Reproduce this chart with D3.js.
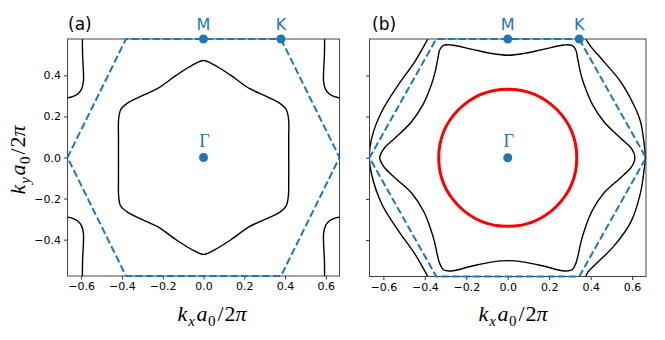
<!DOCTYPE html>
<html>
<head>
<meta charset="utf-8">
<script src="https://cdn.jsdelivr.net/npm/d3@7"></script>
<style>
  body { margin: 0; background: #fff; }
  svg { display: block; }
  .tick text { font-family: "DejaVu Sans", sans-serif; font-size: 11px; fill: #000; }
</style>
</head>
<body>
<div id="chart"></div>
<script>
var width = 665
var height = 340

// tick values (same for both panels)
var xTicks = [-0.6, -0.4, -0.2, 0.0, 0.2, 0.4, 0.6]
var yTicks = [-0.4, -0.2, 0.0, 0.2, 0.4]

// high-symmetry points
var pointLabels = ['M', 'K', 'Γ']
var aPoints = [[0, 0.577], [0.38, 0.577], [0, 0]]
var bPoints = [[0, 0.577], [0.345, 0.577], [0, 0]]

// Brillouin zone (dashed)
var aZone = [[0.38, 0.577], [0.667, 0], [0.38, -0.577], [-0.38, -0.577], [-0.667, 0], [-0.38, 0.577], [0.38, 0.577]]
var bZone = [[0.345, 0.577], [0.667, 0], [0.345, -0.577], [-0.345, -0.577], [-0.667, 0], [-0.345, 0.577], [0.345, 0.577]]

// panel (a) contours
var aCentral = [
  [0, 0.472], [0.05, 0.452], [0.131, 0.402], [0.227, 0.335], [0.308, 0.298], [0.373, 0.265], [0.405, 0.235], [0.417, 0.19], [0.418, 0.1], [0.418, 0],
  [0.418, -0.1], [0.416, -0.19], [0.405, -0.237], [0.373, -0.267], [0.305, -0.3], [0.225, -0.337], [0.131, -0.403], [0.05, -0.452], [0, -0.472],
  [-0.05, -0.452], [-0.131, -0.403], [-0.225, -0.337], [-0.305, -0.3], [-0.375, -0.265], [-0.407, -0.235], [-0.416, -0.19], [-0.417, -0.1], [-0.417, 0],
  [-0.417, 0.1], [-0.416, 0.19], [-0.405, 0.235], [-0.373, 0.265], [-0.308, 0.298], [-0.227, 0.335], [-0.131, 0.402], [-0.05, 0.452], [0, 0.472]
]
var aCornerTR = [[0.594, 0.6], [0.593, 0.5], [0.589, 0.42], [0.589, 0.37], [0.598, 0.333], [0.617, 0.309], [0.642, 0.296], [0.69, 0.287]]
var aCornerTL = [[-0.594, 0.6], [-0.593, 0.5], [-0.589, 0.42], [-0.589, 0.37], [-0.598, 0.333], [-0.617, 0.309], [-0.642, 0.296], [-0.69, 0.287]]
var aCornerBR = [[0.594, -0.6], [0.593, -0.5], [0.589, -0.42], [0.589, -0.37], [0.598, -0.333], [0.617, -0.309], [0.642, -0.296], [0.69, -0.287]]
var aCornerBL = [[-0.594, -0.6], [-0.593, -0.5], [-0.589, -0.42], [-0.589, -0.37], [-0.598, -0.333], [-0.617, -0.309], [-0.642, -0.296], [-0.69, -0.287]]

// panel (b) contours
var bInner = [
  [0, 0.498], [0.08, 0.507], [0.176, 0.528], [0.273, 0.548], [0.31, 0.546], [0.328, 0.525], [0.337, 0.483], [0.352, 0.41], [0.369, 0.353], [0.409, 0.258], [0.465, 0.174], [0.545, 0.095], [0.593, 0.05], [0.61, 0.02], [0.613, 0],
  [0.61, -0.02], [0.593, -0.05], [0.545, -0.097], [0.465, -0.17], [0.406, -0.26], [0.37, -0.352], [0.353, -0.41], [0.338, -0.48], [0.329, -0.512], [0.311, -0.544], [0.273, -0.55], [0.176, -0.527], [0.08, -0.507], [0, -0.5],
  [-0.08, -0.507], [-0.176, -0.527], [-0.273, -0.55], [-0.311, -0.544], [-0.329, -0.512], [-0.338, -0.48], [-0.353, -0.41], [-0.37, -0.352], [-0.406, -0.26], [-0.465, -0.17], [-0.545, -0.097], [-0.593, -0.05], [-0.612, -0.02], [-0.618, 0],
  [-0.612, 0.02], [-0.593, 0.05], [-0.545, 0.095], [-0.465, 0.174], [-0.409, 0.258], [-0.369, 0.353], [-0.352, 0.41], [-0.337, 0.483], [-0.328, 0.525], [-0.31, 0.546], [-0.273, 0.548], [-0.176, 0.528], [-0.08, 0.507], [0, 0.498]
]
var bOuterR = [[0.37, 0.6], [0.377, 0.577], [0.401, 0.54], [0.465, 0.466], [0.545, 0.369], [0.609, 0.255], [0.641, 0.174], [0.657, 0.076], [0.664, 0], [0.657, -0.065], [0.641, -0.168], [0.593, -0.314], [0.513, -0.428], [0.433, -0.509], [0.385, -0.558], [0.377, -0.577], [0.37, -0.6]]
var bOuterL = [[-0.37, 0.6], [-0.385, 0.577], [-0.449, 0.466], [-0.529, 0.353], [-0.609, 0.222], [-0.657, 0.093], [-0.668, 0], [-0.657, -0.08], [-0.609, -0.222], [-0.529, -0.353], [-0.449, -0.466], [-0.385, -0.577], [-0.37, -0.6]]
var bCircleRadius = 0.333

var blue = '#1f77b4'

var svg = d3.select('#chart')
    .append('svg')
    .attr('width', width)
    .attr('height', height)

svg.append('rect')
    .attr('width', width)
    .attr('height', height)
    .attr('fill', '#fff')

function makePanel(id, left, right, top, bottom, showYLabels) {
    var x = d3.scaleLinear().domain([-0.667, 0.667]).range([left, right])
    var y = d3.scaleLinear().domain([-0.577, 0.577]).range([bottom, top])
    var g = svg.append('g')

    g.append('clipPath')
        .attr('id', 'clip_' + id)
        .append('rect')
        .attr('x', left)
        .attr('y', top)
        .attr('width', right - left)
        .attr('height', bottom - top)

    g.append('g')
        .attr('transform', 'translate(0,' + bottom + ')')
        .call(d3.axisBottom(x).tickValues(xTicks).tickSize(3.5).tickPadding(3)
            .tickFormat(function(d) { return d3.format('.1f')(d).replace('-', '\u2212') }))
    g.append('g')
        .attr('transform', 'translate(' + left + ',0)')
        .call(d3.axisLeft(y).tickValues(yTicks).tickSize(3.5).tickPadding(3)
            .tickFormat(function(d) { return showYLabels ? d3.format('.1f')(d).replace('-', '\u2212') : '' }))
    g.selectAll('.domain').remove()
    g.selectAll('.tick line').attr('stroke', '#000').attr('stroke-width', 0.8)

    var plot = g.append('g').attr('clip-path', 'url(#clip_' + id + ')')
    return { g: g, x: x, y: y, plot: plot, left: left, right: right, top: top, bottom: bottom }
}

function contour(p, pts, closed, color, w) {
    var line = d3.line()
        .x(function(d) { return p.x(d[0]) })
        .y(function(d) { return p.y(d[1]) })
        .curve(closed ? d3.curveCatmullRomClosed : d3.curveCatmullRom)
    p.plot.append('path')
        .attr('d', line(closed ? pts.slice(0, -1) : pts))
        .attr('fill', 'none')
        .attr('stroke', color)
        .attr('stroke-width', w)
}

function zone(p, pts) {
    var line = d3.line()
        .x(function(d) { return p.x(d[0]) })
        .y(function(d) { return p.y(d[1]) })
    p.g.append('path')
        .attr('d', line(pts))
        .attr('fill', 'none')
        .attr('stroke', blue)
        .attr('stroke-width', 2)
        .attr('stroke-dasharray', '7.4,3.2')
}

function frame(p) {
    p.g.append('rect')
        .attr('x', p.left)
        .attr('y', p.top)
        .attr('width', p.right - p.left)
        .attr('height', p.bottom - p.top)
        .attr('fill', 'none')
        .attr('stroke', '#444')
        .attr('stroke-width', 1)
}

function markers(p, pts) {
    p.g.selectAll('circle.sym')
        .data(pts)
        .enter()
        .append('circle')
        .attr('class', 'sym')
        .attr('cx', function(d) { return p.x(d[0]) })
        .attr('cy', function(d) { return p.y(d[1]) })
        .attr('r', 4.5)
        .attr('fill', blue)
    p.g.selectAll('text.sym')
        .data(pts)
        .enter()
        .append('text')
        .attr('class', 'sym')
        .attr('x', function(d, i) { return p.x(d[0]) + (i == 2 ? 1 : 0) })
        .attr('y', function(d, i) { return p.y(d[1]) - (i == 2 ? 11 : 9) })
        .attr('text-anchor', 'middle')
        .attr('font-family', function(d, i) { return i == 2 ? '"Liberation Serif", serif' : '"DejaVu Sans", sans-serif' })
        .attr('font-size', function(d, i) { return i == 2 ? 18 : 16 })
        .attr('fill', blue)
        .text(function(d, i) { return pointLabels[i] })
}

// math style label, e.g. k_x a_0 / 2pi
function mathLabel(sel, sub) {
    var t = sel.attr('font-family', '"Liberation Serif", serif').attr('font-size', 22)
    t.append('tspan').attr('font-style', 'italic').text('k')
    t.append('tspan').attr('font-style', 'italic').attr('font-size', 15).attr('dy', 5).attr('dx', 1).text(sub)
    t.append('tspan').attr('font-style', 'italic').attr('dy', -5).attr('dx', 1.5).text('a')
    t.append('tspan').attr('font-size', 15).attr('dy', 5).attr('dx', 0.5).text('0')
    t.append('tspan').attr('dy', -5).attr('dx', 2).text('/')
    t.append('tspan').attr('dx', 1).text('2')
    t.append('tspan').attr('font-style', 'italic').text('π')
}

var pa = makePanel('a', 67.5, 339.5, 39, 276, true)
var pb = makePanel('b', 369.5, 646, 39, 276.5, false)

// panel (a)
contour(pa, aCentral, true, '#000', 1.4)
contour(pa, aCornerTR, false, '#000', 1.4)
contour(pa, aCornerTL, false, '#000', 1.4)
contour(pa, aCornerBR, false, '#000', 1.4)
contour(pa, aCornerBL, false, '#000', 1.4)
frame(pa)
zone(pa, aZone)
markers(pa, aPoints)

// panel (b)
contour(pb, bInner, true, '#000', 1.4)
contour(pb, bOuterR, false, '#000', 1.4)
contour(pb, bOuterL, false, '#000', 1.4)
pb.plot.append('ellipse')
    .attr('cx', pb.x(0))
    .attr('cy', pb.y(0))
    .attr('rx', pb.x(bCircleRadius) - pb.x(0))
    .attr('ry', pb.y(0) - pb.y(bCircleRadius))
    .attr('fill', 'none')
    .attr('stroke', '#ff0000')
    .attr('stroke-width', 3)
frame(pb)
zone(pb, bZone)
markers(pb, bPoints)

// panel tags
svg.append('text').attr('x', 68).attr('y', 30)
    .attr('font-family', '"DejaVu Sans", sans-serif').attr('font-size', 17).text('(a)')
svg.append('text').attr('x', 372).attr('y', 30)
    .attr('font-family', '"DejaVu Sans", sans-serif').attr('font-size', 17).text('(b)')

// axis labels
mathLabel(svg.append('text').attr('x', 212).attr('y', 321).attr('text-anchor', 'middle'), 'x')
mathLabel(svg.append('text').attr('x', 513).attr('y', 321).attr('text-anchor', 'middle'), 'x')
mathLabel(svg.append('text').attr('transform', 'translate(25,160) rotate(-90)').attr('text-anchor', 'middle'), 'y')
</script>
</body>
</html>
